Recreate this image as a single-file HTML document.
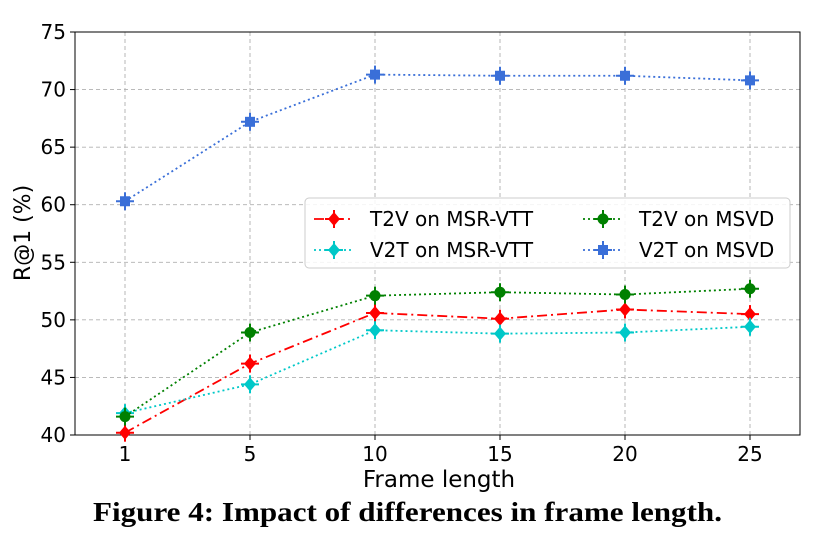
<!DOCTYPE html>
<html><head><meta charset="utf-8"><style>
body{margin:0;background:#fff;width:830px;height:545px;overflow:hidden}
svg{display:block;font-family:"DejaVu Sans","Liberation Sans",sans-serif}
</style></head><body>
<svg id="c" width="830" height="545"></svg>
<script>
const categories=[1,5,10,15,20,25];
const yTicks=[40,45,50,55,60,65,70,75];
const t2vMsrvtt=[40.2,46.2,50.6,50.1,50.9,50.5];
const v2tMsrvtt=[41.9,44.4,49.1,48.8,48.9,49.4];
const t2vMsvd=[41.6,48.9,52.1,52.4,52.2,52.7];
const v2tMsvd=[60.3,67.2,71.3,71.2,71.2,70.8];
const seriesNames=["T2V on MSR-VTT","V2T on MSR-VTT","T2V on MSVD","V2T on MSVD"];
const NS="http://www.w3.org/2000/svg";
const svg=document.getElementById('c');
const L=75,R=800,T=32,B=435;
const x=i=>125+i*(750-125)/(categories.length-1);
const y=v=>B-(v-40)/(75-40)*(B-T);
function el(t,a,p){const e=document.createElementNS(NS,t);for(const k in a)e.setAttribute(k,a[k]);(p||svg).appendChild(e);return e;}
yTicks.forEach(v=>{
 const g=el('line',{x1:L,x2:R,y1:y(v),y2:y(v),stroke:'#b0b0b0','stroke-dasharray':'4,3','stroke-width':0.9});
 
 
 el('line',{x1:L-5,x2:L,y1:y(v),y2:y(v),stroke:'#000'});
 const t=el('text',{x:L-9,y:y(v)+7,'text-anchor':'end','font-size':20});t.textContent=v;
 
 
});
categories.forEach((c,i)=>{
 const g=el('line',{x1:x(i),x2:x(i),y1:T,y2:B,stroke:'#b0b0b0','stroke-dasharray':'4,3','stroke-width':0.9});
 
 
 el('line',{x1:x(i),x2:x(i),y1:B,y2:B+5,stroke:'#000'});
 const t=el('text',{x:x(i),y:B+26,'text-anchor':'middle','font-size':20});t.textContent=c;
 
 
});
const ax=el('rect',{x:L,y:T,width:R-L,height:B-T,fill:'none',stroke:'#000','stroke-width':1});


function marker(type,cx,cy,col,p){
 el('line',{x1:cx-9,x2:cx+9,y1:cy,y2:cy,stroke:col,'stroke-width':2},p);
 el('line',{x1:cx,x2:cx,y1:cy-9,y2:cy+9,stroke:col,'stroke-width':2},p);
 if(type==='d'||type==='D')el('polygon',{points:`${cx},${cy-7} ${cx+6},${cy} ${cx},${cy+7} ${cx-6},${cy}`,fill:col},p);
 else if(type==='h')el('circle',{cx:cx,cy:cy,r:5.5,fill:col},p);
 else el('rect',{x:cx-5,y:cy-5,width:10,height:10,fill:col},p);
}
const series=[
 {d:t2vMsrvtt,c:'#ff0000',dash:'10,4,2,4',m:'d',n:'series-t2v-msrvtt'},
 {d:v2tMsrvtt,c:'#00c8c8',dash:'2,3',m:'D',n:'series-v2t-msrvtt'},
 {d:t2vMsvd,c:'#008000',dash:'2,3',m:'h',n:'series-t2v-msvd'},
 {d:v2tMsvd,c:'#3a6fd8',dash:'2,3',m:'s',n:'series-v2t-msvd'}];
series.forEach(s=>{
 const g=el('g',{});
 
 
 el('polyline',{points:s.d.map((v,i)=>x(i)+','+y(v)).join(' '),fill:'none',stroke:s.c,'stroke-width':1.8,'stroke-dasharray':s.dash},g);
 s.d.forEach((v,i)=>marker(s.m,x(i),y(v),s.c,g));
});
const lg=el('g',{});


el('rect',{x:305,y:198,width:485,height:70,rx:4,fill:'#fff','fill-opacity':0.85,stroke:'#ccc'},lg);
const lp=[[314,219],[314,250],[583,219],[583,250]];
series.forEach((s,k)=>{
 const [lx,ly]=lp[k];
 const e=el('g',{},lg);
 
 
 el('line',{x1:lx,x2:lx+40,y1:ly,y2:ly,stroke:s.c,'stroke-width':1.8,'stroke-dasharray':s.dash},e);
 marker(s.m,lx+20,ly,s.c,e);
 const t=el('text',{x:lx+56,y:ly+7,'font-size':20},e);t.textContent=seriesNames[k];
});
const yl=el('text',{x:30,y:233,'text-anchor':'middle','font-size':22,transform:'rotate(-90 30 233)'});yl.textContent='R@1 (%)';


const xl=el('text',{x:439,y:487,'text-anchor':'middle','font-size':23});xl.textContent='Frame length';


const cap=el('text',{x:93,y:521,'font-size':27,'font-weight':'bold','font-family':'"Liberation Serif",serif',textLength:629,lengthAdjust:'spacingAndGlyphs'});cap.textContent='Figure 4: Impact of differences in frame length.';


</script>
</body></html>
